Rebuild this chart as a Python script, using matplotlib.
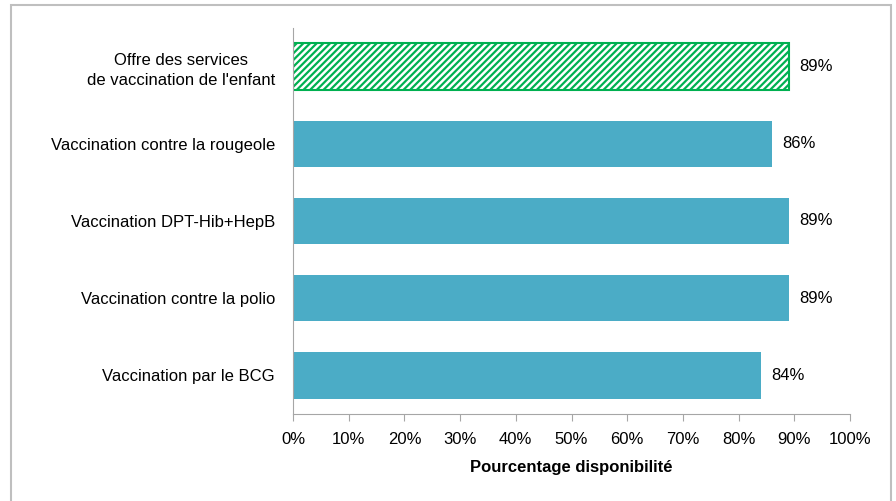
import matplotlib
matplotlib.use("Agg")
import matplotlib.pyplot as plt
from matplotlib.patches import Rectangle

categories = ["Offre des services\nde vaccination de l'enfant",
              "Vaccination contre la rougeole",
              "Vaccination DPT-Hib+HepB",
              "Vaccination contre la polio",
              "Vaccination par le BCG"]
values = [89, 86, 89, 89, 84]
xticks = [0, 10, 20, 30, 40, 50, 60, 70, 80, 90, 100]

plt.rcParams['font.family'] = ['Liberation Sans', 'DejaVu Sans']
plt.rcParams['hatch.linewidth'] = 1.6

W, H = 896, 501
fig = plt.figure(figsize=(W/100, H/100), dpi=100)
ax = fig.add_axes([293/W, 1-414/H, (850-293)/W, (414-28)/H])

# outer border
fig.patches.append(Rectangle((11/W, -0.01), (891-11)/W, (1-5/H)+0.01, transform=fig.transFigure,
                             fill=False, edgecolor='#BFBFBF', linewidth=1.5))

teal = '#4BACC6'
green = '#00B050'
fs = 12
n = len(categories)
ys = list(range(n))[::-1]
for i, (y, v) in enumerate(zip(ys, values)):
    if i == 0:
        ax.barh(y, v, height=0.6, facecolor='white', edgecolor=green, hatch='/////', linewidth=1.5)
    else:
        ax.barh(y, v, height=0.6, color=teal)
    ax.text(v + 1.8, y, f"{v}%", va='center', ha='left', fontsize=fs, color='black')

ax.set_ylim(-0.5, n - 0.5)
ax.set_xlim(0, 100)
ax.set_yticks(ys)
ax.set_yticklabels(categories, fontsize=fs, ha='right')
for lbl in ax.get_yticklabels():
    lbl.set_multialignment('center')
    lbl.set_linespacing(1.45)
ax.tick_params(axis='y', length=0, pad=13)
ax.set_xticks(xticks)
ax.set_xticklabels([f"{t}%" for t in xticks], fontsize=fs)
ax.tick_params(axis='x', length=5, color='#A6A6A6', pad=8)
ax.set_xlabel("Pourcentage disponibilité", fontsize=fs, fontweight='bold', labelpad=9)

for s in ['top', 'right']:
    ax.spines[s].set_visible(False)
ax.spines['left'].set_color('#A6A6A6')
ax.spines['bottom'].set_color('#A6A6A6')

fig.savefig("out.png", dpi=100)
